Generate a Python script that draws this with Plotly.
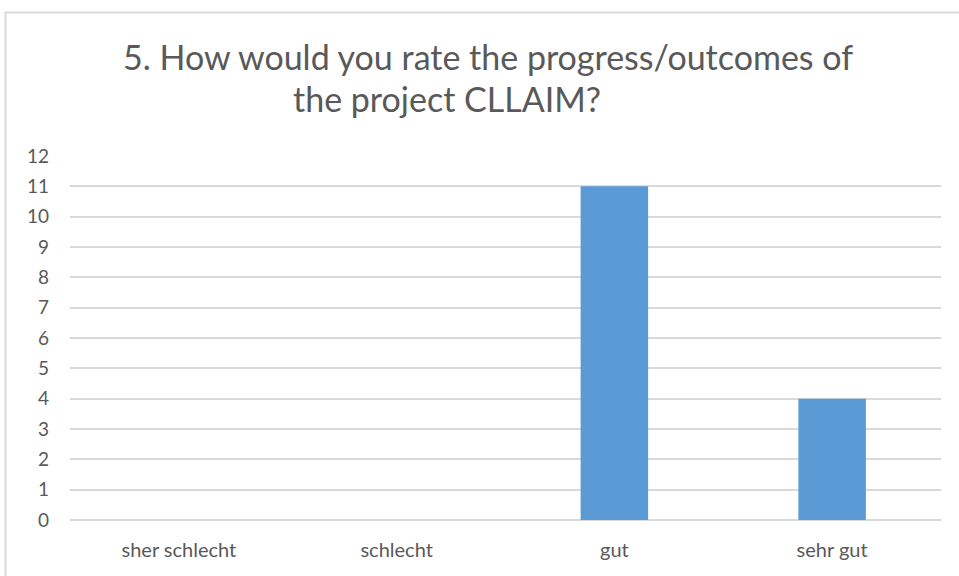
import plotly.graph_objects as go

categories = ["sher schlecht", "schlecht", "gut", "sehr gut"]
values = [0, 0, 11, 4]
y_ticks = list(range(0, 13))
title_line1 = "5. How would you rate the progress/outcomes of"
title_line2 = "the project CLLAIM?"

W, H = 959, 576
L, R, T, B = 70, W - 941, 156, H - 520
pw, ph = W - L - R, H - T - B

def px_x(px):
    return (px - L) / pw

def px_y(py):
    return (H - B - py) / ph

FONT = "Lato, Open Sans, sans-serif"
TXT = "#595959"

fig = go.Figure(go.Bar(
    x=categories, y=values, marker=dict(color="#5b9bd5", line=dict(width=0)),
    width=0.31,
))

fig.update_layout(
    width=W, height=H,
    margin=dict(l=L, r=R, t=T, b=B),
    paper_bgcolor="white", plot_bgcolor="white",
    showlegend=False,
    font=dict(family=FONT, color=TXT),
    xaxis=dict(
        type="category", showgrid=False, showline=False, zeroline=False,
        ticks="", tickfont=dict(size=20, color=TXT), range=[-0.5, 3.5],
        ticklabelstandoff=16,
    ),
    yaxis=dict(
        range=[0, 12], tickvals=y_ticks, showgrid=True, gridcolor="#d9d9d9",
        gridwidth=1.5, zeroline=True, zerolinecolor="#d9d9d9", zerolinewidth=1.5,
        showline=False, ticks="", ticklabelstandoff=20,
        tickfont=dict(size=19, color=TXT),
    ),
    shapes=[dict(
        type="rect", xref="paper", yref="paper",
        x0=px_x(5.5), x1=px_x(W + 10), y0=px_y(H + 10), y1=px_y(12.5),
        line=dict(color="#d9d9d9", width=2), fillcolor="rgba(0,0,0,0)", layer="below",
    )],
    annotations=[
        dict(text=title_line1, xref="paper", yref="paper", x=px_x(488), y=px_y(56),
             xanchor="center", yanchor="middle", showarrow=False,
             font=dict(size=34, color=TXT, family=FONT)),
        dict(text=title_line2, xref="paper", yref="paper", x=px_x(447), y=px_y(99),
             xanchor="center", yanchor="middle", showarrow=False,
             font=dict(size=34, color=TXT, family=FONT)),
    ],
)

fig.write_html(
    "out.html",
    config={"displayModeBar": False},
    post_script="document.body.style.margin='0';document.body.style.overflow='hidden';",
)
